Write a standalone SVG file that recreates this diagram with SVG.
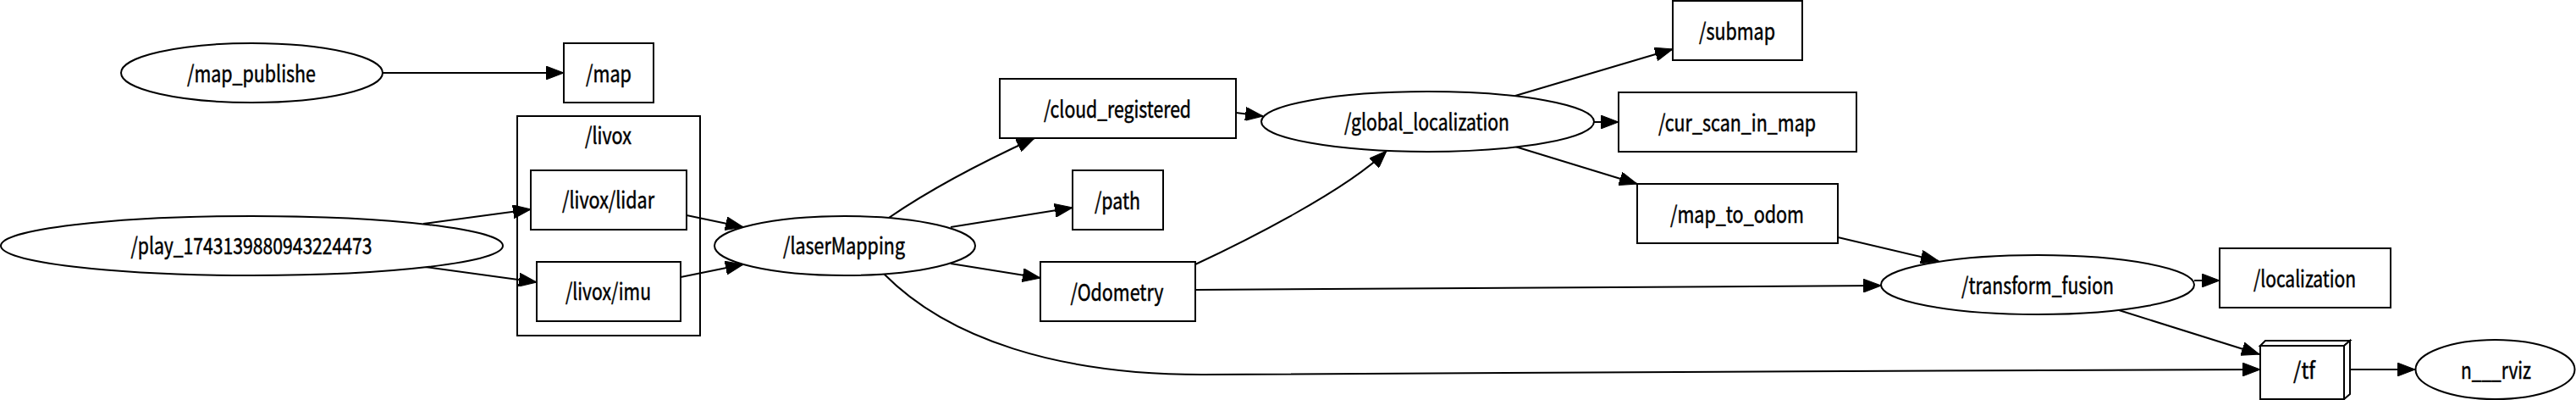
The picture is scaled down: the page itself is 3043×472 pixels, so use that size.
<svg xmlns="http://www.w3.org/2000/svg" width="3043" height="472" viewBox="0 0 3043 472">
<style>
  .n { fill: #ffffff; stroke: #000000; stroke-width: 2; }
  .c { fill: none; stroke: #000000; stroke-width: 2; }
  .e { fill: none; stroke: #000000; stroke-width: 2; marker-end: url(#arr); }
  text { font-family: "Noto Sans CJK SC", "Noto Sans", sans-serif; font-size: 27px; fill: #000000; stroke: #000000; stroke-width: 0.5; text-anchor: middle; }
</style>
<defs>
  <marker id="arr" markerUnits="userSpaceOnUse" markerWidth="22" markerHeight="16" refX="21" refY="8" orient="auto" viewBox="0 0 22 16">
    <path d="M0,0 L21,8 L0,16 z" fill="#000000" stroke="#000000" stroke-width="1"/>
  </marker>
</defs>
<rect x="0" y="0" width="3043" height="472" fill="#ffffff"/>

<g id="cluster_livox">
  <rect class="c" x="611" y="137" width="216" height="259"/>
  <text x="718.5" y="170" textLength="55" lengthAdjust="spacingAndGlyphs">/livox</text>
</g>

<g id="edges">
  <path class="e" d="M452,86 L666,86"/>
  <path class="e" d="M500,264 L627,247"/>
  <path class="e" d="M502,315 L634,333"/>
  <path class="e" d="M811,254 L878,268"/>
  <path class="e" d="M804,327 L878,312"/>
  <path class="e" d="M1050,257 C1095,226 1150,196 1222,163"/>
  <path class="e" d="M1123,268 L1267,245"/>
  <path class="e" d="M1123,311 L1229,328"/>
  <path class="e" d="M1044,323 C1120,400 1250,442 1420,442 C1700,442 2300,436 2670,436"/>
  <path class="e" d="M1412,312 C1470,285 1590,225 1638,178"/>
  <path class="e" d="M1412,342 L2222,337"/>
  <path class="e" d="M1460,133 L1492,137"/>
  <path class="e" d="M1790,113 L1976,58"/>
  <path class="e" d="M1883,144 L1912,144"/>
  <path class="e" d="M1790,173 L1934,217"/>
  <path class="e" d="M2171,280 L2290,308"/>
  <path class="e" d="M2592,331 L2622,331"/>
  <path class="e" d="M2503,366 L2669,418"/>
  <path class="e" d="M2776,436 L2853,436"/>
</g>

<g id="map_publishe">
  <ellipse class="n" cx="297.5" cy="86" rx="154.5" ry="35"/>
  <text x="297" y="97" textLength="152" lengthAdjust="spacingAndGlyphs">/map_publishe</text>
</g>
<g id="map">
  <rect class="n" x="666" y="51" width="106" height="70"/>
  <text x="719" y="97" textLength="54" lengthAdjust="spacingAndGlyphs">/map</text>
</g>
<g id="play">
  <ellipse class="n" cx="297.5" cy="290" rx="296.5" ry="35"/>
  <text x="297" y="300" textLength="285" lengthAdjust="spacingAndGlyphs">/play_1743139880943224473</text>
</g>
<g id="livox_lidar">
  <rect class="n" x="627" y="201" width="184" height="70"/>
  <text x="718.5" y="246" textLength="109" lengthAdjust="spacingAndGlyphs">/livox/lidar</text>
</g>
<g id="livox_imu">
  <rect class="n" x="634" y="309" width="170" height="70"/>
  <text x="718.5" y="354" textLength="101" lengthAdjust="spacingAndGlyphs">/livox/imu</text>
</g>
<g id="laserMapping">
  <ellipse class="n" cx="998" cy="290" rx="154" ry="35"/>
  <text x="997" y="300" textLength="144" lengthAdjust="spacingAndGlyphs">/laserMapping</text>
</g>
<g id="cloud_registered">
  <rect class="n" x="1181" y="93" width="279" height="70"/>
  <text x="1320" y="138.5" textLength="174" lengthAdjust="spacingAndGlyphs">/cloud_registered</text>
</g>
<g id="path">
  <rect class="n" x="1267" y="201" width="107" height="70"/>
  <text x="1320" y="246.5" textLength="54" lengthAdjust="spacingAndGlyphs">/path</text>
</g>
<g id="Odometry">
  <rect class="n" x="1229" y="309" width="183" height="70"/>
  <text x="1319.5" y="354.5" textLength="110" lengthAdjust="spacingAndGlyphs">/Odometry</text>
</g>
<g id="global_localization">
  <ellipse class="n" cx="1686.5" cy="143.5" rx="196.5" ry="35.5"/>
  <text x="1685.5" y="154" textLength="195" lengthAdjust="spacingAndGlyphs">/global_localization</text>
</g>
<g id="submap">
  <rect class="n" x="1976" y="1" width="153" height="70"/>
  <text x="2052" y="46.5" textLength="90" lengthAdjust="spacingAndGlyphs">/submap</text>
</g>
<g id="cur_scan_in_map">
  <rect class="n" x="1912" y="109" width="281" height="70"/>
  <text x="2052" y="154.5" textLength="186" lengthAdjust="spacingAndGlyphs">/cur_scan_in_map</text>
</g>
<g id="map_to_odom">
  <rect class="n" x="1934" y="217" width="237" height="70"/>
  <text x="2052" y="262.5" textLength="158" lengthAdjust="spacingAndGlyphs">/map_to_odom</text>
</g>
<g id="transform_fusion">
  <ellipse class="n" cx="2407" cy="336" rx="185" ry="35"/>
  <text x="2407" y="346.5" textLength="180" lengthAdjust="spacingAndGlyphs">/transform_fusion</text>
</g>
<g id="localization">
  <rect class="n" x="2622" y="293" width="202" height="70"/>
  <text x="2722.5" y="338.5" textLength="121" lengthAdjust="spacingAndGlyphs">/localization</text>
</g>
<g id="tf">
  <polygon class="n" points="2670,408 2676,402 2776,402 2769,408"/>
  <polygon class="n" points="2769,408 2776,402 2776,465 2769,471"/>
  <rect class="n" x="2670" y="408" width="99" height="63"/>
  <text x="2722" y="447" textLength="26" lengthAdjust="spacingAndGlyphs">/tf</text>
</g>
<g id="rviz">
  <ellipse class="n" cx="2947.5" cy="436" rx="94" ry="35"/>
  <text x="2948.5" y="446.5" textLength="83" lengthAdjust="spacingAndGlyphs">n___rviz</text>
</g>
</svg>
